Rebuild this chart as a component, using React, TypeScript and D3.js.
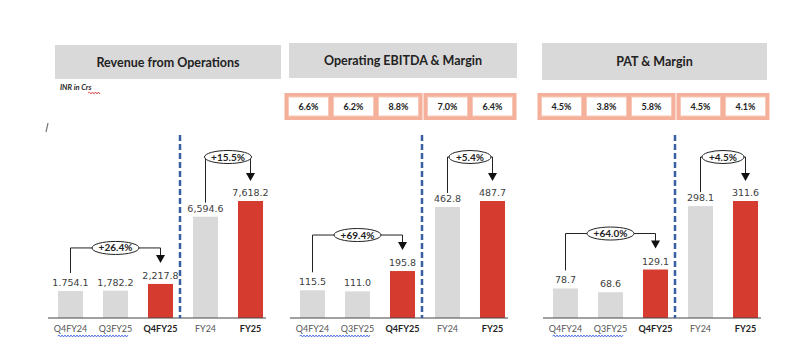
import * as React from 'react';
import { scaleBand, scaleLinear, format } from 'd3';

// data
const categories = ["Q4FY24", "Q3FY25", "Q4FY25", "FY24", "FY25"];
const boldCats = ["Q4FY25", "FY25"];

const revenue = [1754.1, 1782.2, 2217.8, 6594.6, 7618.2];
const revenueLabels = ["1.754.1", "1,782.2", "2,217.8", "6,594.6", "7,618.2"];
const revenueGrowth = ["+26.4%", "+15.5%"];

const ebitda = [115.5, 111.0, 195.8, 462.8, 487.7];
const ebitdaMargin = ["6.6%", "6.2%", "8.8%", "7.0%", "6.4%"];
const ebitdaGrowth = ["+69.4%", "+5.4%"];

const pat = [78.7, 68.6, 129.1, 298.1, 311.6];
const patMargin = ["4.5%", "3.8%", "5.8%", "4.5%", "4.1%"];
const patGrowth = ["+64.0%", "+4.5%"];

const GRAY = "#d9d9d9";
const RED = "#d63b2f";
const SALMON = "#f4b09a";
const DASH = "#3a5fa0";
const FONT = "Lato, 'Open Sans', sans-serif";
const NUMFONT = "'DejaVu Sans', Verdana, sans-serif";

const BASE = 318;
const TOP = 201;

interface PanelProps {
    x0: number,
    title: string,
    header: { x: number, y: number, w: number, h: number },
    values: number[],
    labels: string[],
    growth: string[],
    margins?: string[],
    showUnit?: boolean
}

const wavy = (x1: number, x2: number, y: number) => {
    let d = `M${x1},${y}`;
    let up = true;
    for (let x = x1 + 1.5; x <= x2; x += 1.5) {
        d += ` L${x},${up ? y - 1 : y + 1}`;
        up = !up;
    }
    return d;
};

const Connector = ({ xa, xb, yStart, yLevel, yTip, label }: { xa: number, xb: number, yStart: number, yLevel: number, yTip: number, label: string }) => {
    const mid = (xa + xb) / 2;
    const rx = label.length > 5 ? 23.5 : 21;
    return (
        <g>
            <path d={`M${xa},${yStart} L${xa},${yLevel} L${xb},${yLevel} L${xb},${yTip - 7}`} fill="none" stroke="#222" strokeWidth={1} />
            <path d={`M${xb - 4.5},${yTip - 8} L${xb + 4.5},${yTip - 8} L${xb},${yTip} Z`} fill="#111" />
            <ellipse cx={mid} cy={yLevel} rx={rx} ry={6.5} fill="#fff" stroke="#222" strokeWidth={1} />
            <text x={mid} y={yLevel + 3.5} textAnchor="middle" fontFamily={FONT} fontWeight="bold" fontSize={10} fill="#222">{label}</text>
        </g>
    );
};

const Panel = ({ x0, title, header, values, labels, growth, margins, showUnit }: PanelProps) => {
    const x = scaleBand<string>()
        .domain(categories)
        .range([x0, x0 + 225])
        .paddingInner(0.444)
        .paddingOuter(0.222);
    const y = scaleLinear()
        .domain([0, Math.max(...values)])
        .range([BASE, TOP]);
    const bw = x.bandwidth();
    const cx = (i: number) => (x(categories[i]) || 0) + bw / 2;
    const dashX = ((x(categories[2]) || 0) + bw + (x(categories[3]) || 0)) / 2 - 3;

    return (
        <g>
            <rect x={header.x} y={header.y} width={header.w} height={header.h} fill={GRAY} />
            <text x={header.x + header.w / 2} y={header.y + header.h / 2 + 4.5} textAnchor="middle" fontFamily={FONT} fontWeight="bold" fontSize={12.5} fill="#222">{title}</text>

            {showUnit && (
                <g>
                    <text x={60} y={90} fontFamily={FONT} fontStyle="italic" fontWeight="bold" fontSize={7.5} fill="#222">INR in Crs</text>
                    <path d={wavy(88, 100, 93)} fill="none" stroke="#e03030" strokeWidth={0.8} />
                </g>
            )}

            {margins && [[0, 1, 2], [3, 4]].map((grp, gi) => {
                const off = gi === 0 ? -4 : 0;
                const left = cx(grp[0]) + off - 20 - 4;
                const right = cx(grp[grp.length - 1]) + off + 20 + 4;
                return (
                    <g key={gi}>
                        <rect x={left} y={93} width={right - left} height={27} fill={SALMON} />
                        {grp.map(i => (
                            <g key={i}>
                                <rect x={cx(i) + off - 20} y={97} width={40} height={19} fill="#fff" stroke="#f8c9b8" strokeWidth={1} />
                                <text x={cx(i) + off} y={110} textAnchor="middle" fontFamily={FONT} fontWeight="bold" fontSize={9} fill="#222">{margins[i]}</text>
                            </g>
                        ))}
                    </g>
                );
            })}

            {values.map((v, i) => (
                <rect key={categories[i]} x={x(categories[i])} y={y(v)} width={bw} height={BASE - y(v)} fill={i === 2 || i === 4 ? RED : GRAY} />
            ))}
            {values.map((v, i) => (
                <text key={"l" + i} x={cx(i)} y={y(v) - 5} textAnchor="middle" fontFamily={NUMFONT} fontSize={9.5} fill="#404040">{labels[i]}</text>
            ))}

            <line x1={x0} x2={x0 + 218} y1={BASE} y2={BASE} stroke="#444" strokeWidth={1} />
            <line x1={dashX} x2={dashX} y1={135} y2={BASE} stroke={DASH} strokeWidth={2.5} strokeDasharray="6,3" />

            {categories.map((c, i) => (
                <text key={"c" + c} x={cx(i)} y={332} textAnchor="middle" fontFamily={FONT} fontSize={9}
                    fontWeight={boldCats.includes(c) ? "bold" : "normal"} fill={boldCats.includes(c) ? "#222" : "#555"}>{c}</text>
            ))}
            <path d={wavy(cx(0) - 13, cx(1) + 13, 336)} fill="none" stroke="#3355dd" strokeWidth={0.8} />

            <Connector xa={cx(0)} xb={cx(2)} yStart={y(values[0]) - 18} yLevel={y(values[2]) - 36} yTip={y(values[2]) - 21} label={growth[0]} />
            <Connector xa={cx(3)} xb={cx(4)} yStart={y(values[3]) - 14} yLevel={y(values[4]) - 44} yTip={y(values[4]) - 20} label={growth[1]} />
        </g>
    );
};

const fmt = format(",.1f");

const App = () => {
    return (
        <svg width={800} height={363} style={{ position: 'absolute', left: 0, top: 0, background: '#fff' }}>
            <rect width={800} height={363} fill="#fff" />
            <line x1={46} y1={132} x2={48} y2={123} stroke="#777" strokeWidth={1.2} />
            <Panel x0={48} title="Revenue from Operations" header={{ x: 55, y: 45, w: 226, h: 34 }}
                values={revenue} labels={revenueLabels} growth={revenueGrowth} showUnit />
            <Panel x0={290} title="Operating EBITDA & Margin" header={{ x: 289, y: 43, w: 228, h: 35 }}
                values={ebitda} labels={ebitda.map(fmt)} growth={ebitdaGrowth} margins={ebitdaMargin} />
            <Panel x0={543} title="PAT & Margin" header={{ x: 542, y: 43, w: 225, h: 37 }}
                values={pat} labels={pat.map(fmt)} growth={patGrowth} margins={patMargin} />
        </svg>
    );
};

export default App;
